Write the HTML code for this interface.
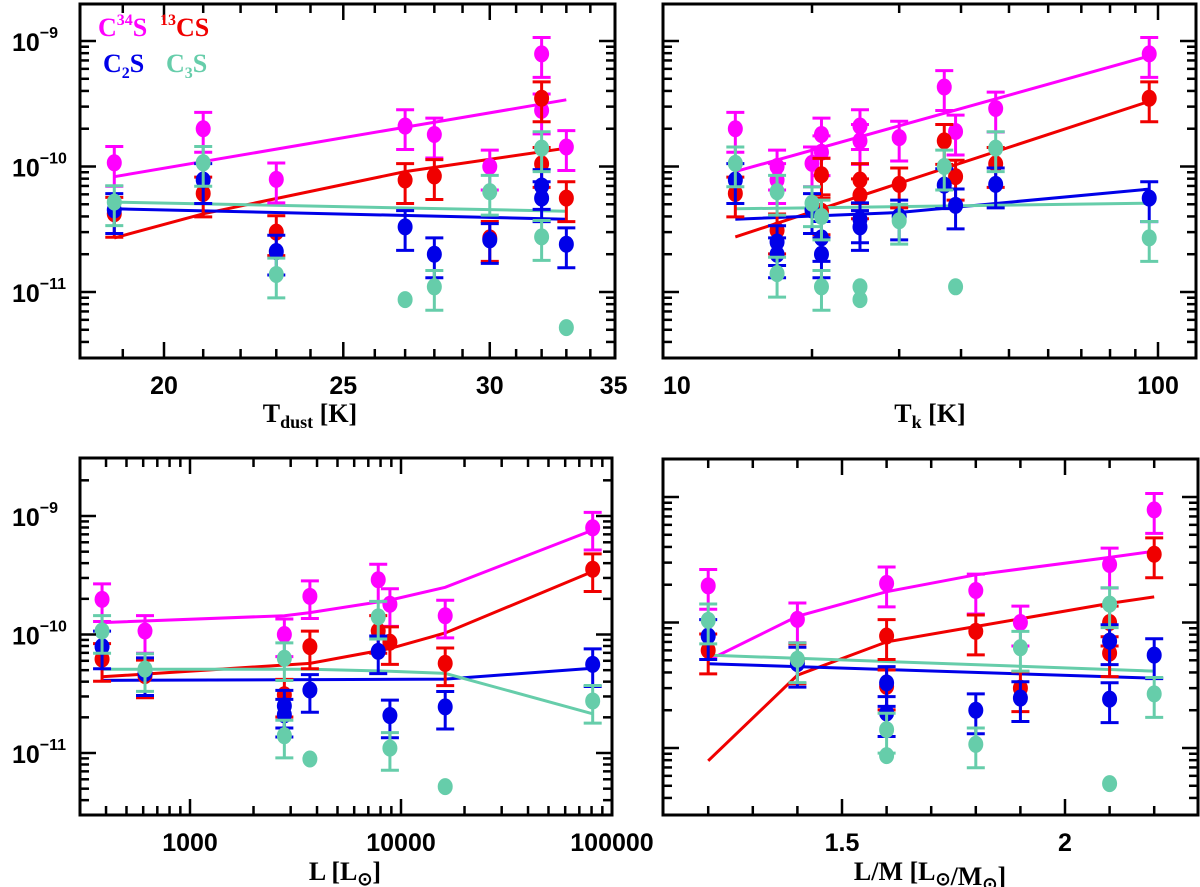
<!DOCTYPE html>
<html><head><meta charset="utf-8"><style>
body{margin:0;background:#fff;}
svg{display:block;font-family:"Liberation Sans",sans-serif;font-weight:bold;}
</style></head><body>
<svg id="fig" width="1200" height="887" viewBox="0 0 1200 887" xmlns="http://www.w3.org/2000/svg"></svg>
<script>
// ---------- Data: panel 1 (T_dust) ----------
const tdMagX=[18.8,21,23,27,28,30,32,32,33];
const tdMagY=[1.07e-10,2.0e-10,7.9e-11,2.1e-10,1.8e-10,1.0e-10,7.9e-10,2.8e-10,1.43e-10];
const tdMagE=[1,1,1,1,1,1,1,1,1];
const tdRedX=[18.8,21,23,27,28,30,32,32,33];
const tdRedY=[4.2e-11,6.1e-11,3.0e-11,7.8e-11,8.4e-11,2.7e-11,3.5e-10,1.05e-10,5.6e-11];
const tdRedE=[1,1,1,1,1,1,1,1,1];
const tdBluX=[18.8,21,23,27,28,30,32,32,33];
const tdBluY=[4.5e-11,7.8e-11,2.1e-11,3.3e-11,2.0e-11,2.6e-11,7.0e-11,5.6e-11,2.4e-11];
const tdBluE=[1,1,1,1,1,1,1,1,1];
const tdTeaX=[18.8,21,23,27,28,30,32,32,33];
const tdTeaY=[5.2e-11,1.07e-10,1.38e-11,8.7e-12,1.1e-11,6.3e-11,1.4e-10,2.75e-11,5.2e-12];
const tdTeaE=[1,1,1,0,1,1,1,1,0];
const tdMagLX=[18.8,33], tdMagLY=[8.3e-11,3.4e-10];
const tdRedLX=[18.8,21,27,33], tdRedLY=[2.7e-11,4.2e-11,9.1e-11,1.4e-10];
const tdBluLX=[18.8,33], tdBluLY=[4.6e-11,3.8e-11];
const tdTeaLX=[18.8,33], tdTeaLY=[5.2e-11,4.4e-11];
const tdTicks=[20,25,30,35];

// ---------- Data: panel 2 (T_k) ----------
const tkMagX=[14,17,17,20,20.9,20.9,25,25,30,37,39,47,96];
const tkMagY=[2.0e-10,1.0e-10,7.8e-11,1.06e-10,1.8e-10,1.3e-10,2.1e-10,1.6e-10,1.7e-10,4.3e-10,1.9e-10,2.9e-10,7.9e-10];
const tkMagE=[1,1,1,1,1,1,1,1,1,1,1,1,1];
const tkRedX=[14,17,20.9,20.9,25,25,30,37,39,47,96];
const tkRedY=[6.1e-11,3.1e-11,8.6e-11,4.4e-11,7.8e-11,5.9e-11,7.2e-11,1.6e-10,8.3e-11,1.05e-10,3.5e-10];
const tkRedE=[1,1,1,1,1,1,1,1,1,1,1];
const tkBluX=[14,17,17,20,20.9,20.9,25,25,30,37,39,47,96];
const tkBluY=[7.8e-11,2.5e-11,2.0e-11,4.5e-11,2.7e-11,2.0e-11,3.8e-11,3.3e-11,4.0e-11,7.1e-11,4.9e-11,7.2e-11,5.6e-11];
const tkBluE=[1,1,1,1,1,1,1,1,1,1,1,1,1];
const tkTeaX=[14,17,17,20,20.9,20.9,25,25,30,37,39,47,96];
const tkTeaY=[1.06e-10,6.3e-11,1.4e-11,5.1e-11,4.0e-11,1.1e-11,1.1e-11,8.7e-12,3.7e-11,1.0e-10,1.1e-11,1.4e-10,2.7e-11];
const tkTeaE=[1,1,1,1,1,1,0,0,1,1,0,1,1];
const tkMagLX=[14,96], tkMagLY=[9.1e-11,7.6e-10];
const tkRedLX=[14,96], tkRedLY=[2.75e-11,3.3e-10];
const tkBluLX=[14,30,96], tkBluLY=[3.8e-11,4.3e-11,6.6e-11];
const tkTeaLX=[14,96], tkTeaLY=[4.6e-11,5.1e-11];
const tkTicks=[10,100];

// ---------- Data: panel 3 (L) ----------
const lMagX=[383,612,2800,3700,7800,8860,16200,81000];
const lMagY=[1.98e-10,1.07e-10,1.0e-10,2.1e-10,2.9e-10,1.8e-10,1.44e-10,7.95e-10];
const lMagE=[1,1,1,1,1,1,1,1];
const lRedX=[383,612,2800,3700,7800,8860,16200,81000];
const lRedY=[6.2e-11,4.5e-11,3.1e-11,7.9e-11,1.07e-10,8.6e-11,5.7e-11,3.55e-10];
const lRedE=[1,1,1,1,1,1,1,1];
const lBluX=[383,612,2800,2800,3700,7800,8860,16200,81000];
const lBluY=[7.9e-11,4.7e-11,2.5e-11,2.1e-11,3.4e-11,7.2e-11,2.07e-11,2.45e-11,5.6e-11];
const lBluE=[1,1,1,1,1,1,1,1,1];
const lTeaX=[383,612,2800,2800,3700,7800,8860,16200,81000];
const lTeaY=[1.07e-10,5.1e-11,6.3e-11,1.4e-11,8.9e-12,1.41e-10,1.1e-11,5.2e-12,2.75e-11];
const lTeaE=[1,1,1,1,0,1,1,0,1];
const lMagLX=[383,2800,3700,8860,16200,81000], lMagLY=[1.26e-10,1.44e-10,1.53e-10,1.95e-10,2.5e-10,7.6e-10];
const lRedLX=[383,3700,8860,16200,81000], lRedLY=[4.4e-11,5.7e-11,7.6e-11,1.03e-10,3.4e-10];
const lBluLX=[383,16200,81000], lBluLY=[4.1e-11,4.2e-11,5.2e-11];
const lTeaLX=[383,3700,8860,16200,81000], lTeaLY=[5.1e-11,5.1e-11,4.9e-11,4.7e-11,2.14e-11];
const lTicks=[1000,10000,100000];

// ---------- Data: panel 4 (L/M) ----------
const mMagX=[1.2,1.4,1.6,1.8,1.9,2.1,2.2];
const mMagY=[1.96e-10,1.06e-10,2.05e-10,1.8e-10,1.0e-10,2.9e-10,7.9e-10];
const mMagE=[1,1,1,1,1,1,1];
const mRedX=[1.2,1.4,1.6,1.6,1.8,1.9,2.1,2.1,2.2];
const mRedY=[6.0e-11,5.0e-11,7.8e-11,3.1e-11,8.5e-11,3.0e-11,1.0e-10,5.7e-11,3.5e-10];
const mRedE=[1,1,1,1,1,1,1,1,1];
const mBluX=[1.2,1.4,1.6,1.6,1.8,1.9,2.1,2.1,2.2];
const mBluY=[7.8e-11,4.7e-11,3.3e-11,1.9e-11,2.0e-11,2.5e-11,7.1e-11,2.45e-11,5.5e-11];
const mBluE=[1,1,1,1,1,1,1,1,1];
const mTeaX=[1.2,1.4,1.6,1.6,1.8,1.9,2.1,2.1,2.2];
const mTeaY=[1.04e-10,5.1e-11,1.4e-11,8.7e-12,1.07e-11,6.3e-11,1.4e-10,5.2e-12,2.7e-11];
const mTeaE=[1,1,1,0,1,1,1,0,1];
const mMagLX=[1.2,1.4,1.6,1.8,2.1,2.2], mMagLY=[5.0e-11,1.12e-10,1.76e-10,2.4e-10,3.3e-10,3.7e-10];
const mRedLX=[1.2,1.4,1.6,1.8,2.1,2.2], mRedLY=[7.9e-12,3.8e-11,7.0e-11,9.3e-11,1.42e-10,1.6e-10];
const mBluLX=[1.2,2.2], mBluLY=[4.7e-11,3.6e-11];
const mTeaLX=[1.2,2.2], mTeaLY=[5.5e-11,4.1e-11];
const mTicks=[1.5,2];

const COL={mag:"#ff00ff",red:"#f00000",blu:"#0000e8",tea:"#66cdaa"};
const NS="http://www.w3.org/2000/svg";
const svg=document.getElementById("fig");
function el(tag,attrs,parent){const e=document.createElementNS(NS,tag);for(const k in attrs)e.setAttribute(k,attrs[k]);(parent||svg).appendChild(e);return e;}
const L10=Math.log10;

function makePanel(cfg){
  const g=el("g",{});
  
  
  const X=cfg.xf, Y=cfg.yf;
  // series
  const series=[["mag",cfg.s.mag],["red",cfg.s.red],["blu",cfg.s.blu],["tea",cfg.s.tea]];
  const lg=el("g",{},g);
  
  
  series.forEach(([c,s])=>{
    const pts=s.lx.map((v,i)=>X(v).toFixed(1)+","+Y(s.ly[i]).toFixed(1)).join(" ");
    const pl=el("polyline",{points:pts,fill:"none",stroke:COL[c],"stroke-width":3},lg);
    
    
  });
  series.forEach(([c,s])=>{
    const sg=el("g",{},g);
    
    
    s.x.forEach((xv,i)=>{
      const cx=X(xv), cy=Y(s.y[i]);
      if(s.e[i]){
        const yu=Y(s.y[i]*1.35), yd=Y(s.y[i]*0.65);
        el("line",{x1:cx,x2:cx,y1:yu,y2:yd,stroke:COL[c],"stroke-width":3},sg);
        el("line",{x1:cx-9,x2:cx+9,y1:yu,y2:yu,stroke:COL[c],"stroke-width":3},sg);
        el("line",{x1:cx-9,x2:cx+9,y1:yd,y2:yd,stroke:COL[c],"stroke-width":3},sg);
      }
      const p=el("ellipse",{cx:cx,cy:cy,rx:7.5,ry:8.5,fill:COL[c]},sg);
      
      
    });
  });
  // frame
  const fr=el("rect",{x:cfg.x0,y:cfg.y0,width:cfg.x1-cfg.x0,height:cfg.y1-cfg.y0,fill:"none",stroke:"#000","stroke-width":3},g);
  
  
  // y ticks (log)
  const tg=el("g",{stroke:"#000","stroke-width":2.5},g);
  
  
  for(let d=-12;d<=-8;d++)for(let m=1;m<=9;m++){
    const yy=Y(m*Math.pow(10,d));
    if(yy<cfg.y0+2||yy>cfg.y1-2)continue;
    const len=m===1?16:9;
    el("line",{x1:cfg.x0,x2:cfg.x0+len,y1:yy,y2:yy},tg);
    el("line",{x1:cfg.x1,x2:cfg.x1-len,y1:yy,y2:yy},tg);
  }
  cfg.xminor.forEach(v=>{
    const xx=X(v); if(xx<cfg.x0+2||xx>cfg.x1-2)return;
    const len=cfg.xmajor.includes(v)?16:9;
    el("line",{x1:xx,x2:xx,y1:cfg.y1,y2:cfg.y1-len},tg);
    el("line",{x1:xx,x2:xx,y1:cfg.y0,y2:cfg.y0+len},tg);
  });
  // x tick labels
  cfg.xmajor.forEach(v=>{
    const t=el("text",{x:X(v),y:cfg.y1+36,"text-anchor":cfg.anchor?cfg.anchor(v):"middle","font-size":25},g);
    t.textContent=String(v);
    
    
  });
  // y tick labels
  if(cfg.ylabels){
    [-9,-10,-11].forEach(d=>{
      const t=el("text",{x:12,y:Y(Math.pow(10,d))+10,"font-size":25},g);
      t.appendChild(document.createTextNode("10"));
      const ts=el("tspan",{dy:-13,"font-size":16},t);ts.textContent="−"+(-d);
      
      
    });
  }
  return g;
}
function logTicks(lo,hi){const a=[];for(let d=Math.floor(L10(lo));d<=Math.ceil(L10(hi));d++)for(let m=1;m<=9;m++)a.push(+(m*Math.pow(10,d)).toPrecision(3));return a;}
function S(p){return eval("({mag:{x:"+p+"MagX,y:"+p+"MagY,e:"+p+"MagE,lx:"+p+"MagLX,ly:"+p+"MagLY},red:{x:"+p+"RedX,y:"+p+"RedY,e:"+p+"RedE,lx:"+p+"RedLX,ly:"+p+"RedLY},blu:{x:"+p+"BluX,y:"+p+"BluY,e:"+p+"BluE,lx:"+p+"BluLX,ly:"+p+"BluLY},tea:{x:"+p+"TeaX,y:"+p+"TeaY,e:"+p+"TeaE,lx:"+p+"TeaLX,ly:"+p+"TeaLY}})");}

const yTop=v=>41-125.5*(L10(v)+9);
const minorTd=[];for(let t=18;t<=35;t++)minorTd.push(t);
makePanel({name:"panel-tdust",x0:80,x1:615,y0:4,y1:358,xf:v=>164+1850*L10(v/20),yf:yTop,s:S("td"),xminor:minorTd,xmajor:tdTicks,ylabels:true});
makePanel({name:"panel-tk",x0:663,x1:1196,y0:4,y1:358,xf:v=>663+495*L10(v/10),yf:yTop,s:S("tk"),xminor:logTicks(10,100),xmajor:tkTicks,ylabels:false,anchor:v=>v===10?"start":"middle"});
makePanel({name:"panel-luminosity",x0:80,x1:612,y0:458,y1:815,xf:v=>190+211*L10(v/1000),yf:v=>516-118.5*(L10(v)+9),s:S("l"),xminor:logTicks(100,100000),xmajor:lTicks,ylabels:true});
const minorM=[];for(let i=11;i<=23;i++)minorM.push(+(i/10).toFixed(1));
makePanel({name:"panel-lm",x0:663,x1:1198,y0:459,y1:815,xf:v=>842+446*(v-1.5),yf:v=>497-125.5*(L10(v)+9),s:S("m"),xminor:minorM,xmajor:mTicks,ylabels:false});

// axis titles
function title(x,y,parts,name){const t=el("text",{x:x,y:y,"text-anchor":"middle","font-size":26,"font-family":"Liberation Serif, serif"});
  parts.forEach(p=>{const ts=el("tspan",p[1]||{},t);ts.textContent=p[0];});
  
  }
title(310,422,[["T"],["dust",{"font-size":18,dy:6}],[" [K]",{dy:-6}]],"x-axis-title-tdust");
title(930,422,[["T"],["k",{"font-size":18,dy:6}],[" [K]",{dy:-6}]],"x-axis-title-tk");
title(345,880,[["L [L"],["⊙",{"font-size":18,dy:5}],["]",{dy:-5}]],"x-axis-title-luminosity");
title(930,880,[["L/M [L"],["⊙",{"font-size":18,dy:5}],["/M"],["⊙",{"font-size":18,dy:5}],["]",{dy:-5}]],"x-axis-title-lm");

// legend
function leg(x,y,parts,color,name){const t=el("text",{x:x,y:y,fill:color,"font-size":26,"font-family":"Liberation Serif, serif"});
  parts.forEach(p=>{const ts=el("tspan",p[1]||{},t);ts.textContent=p[0];});
  
  }
leg(98,36,[["C"],["34",{"font-size":16,dy:-11}],["S",{dy:11}]],COL.mag,"legend-c34s");
leg(160,36,[["13",{"font-size":16,dy:-11}],["CS",{dy:11}]],COL.red,"legend-13cs");
leg(103,72,[["C"],["2",{"font-size":16,dy:6}],["S",{dy:-6}]],COL.blu,"legend-c2s");
leg(166,72,[["C"],["3",{"font-size":16,dy:6}],["S",{dy:-6}]],COL.tea,"legend-c3s");
</script>
</body></html>
